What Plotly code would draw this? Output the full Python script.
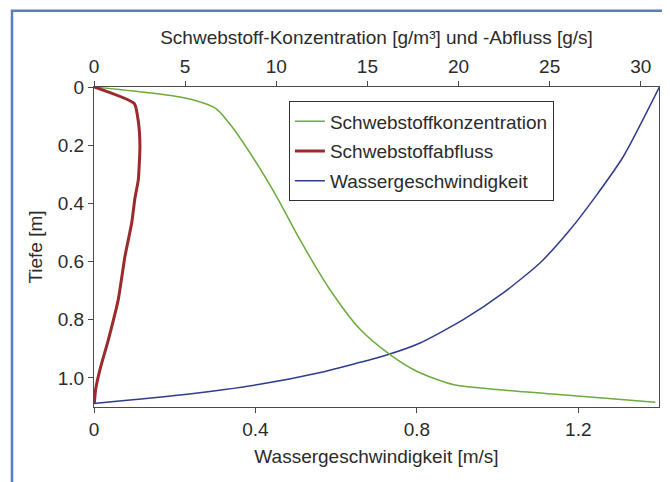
import plotly.graph_objects as go

# Data
depth_conc = [0, 0.021, 0.038, 0.061, 0.076, 0.135, 0.25, 0.38, 0.525, 0.697, 0.833, 0.92, 0.977, 1.023, 1.040, 1.063, 1.084]
concentration = [0, 3.16, 4.99, 6.27, 6.73, 7.55, 8.8, 10.05, 11.3, 12.95, 14.6, 16.24, 17.7, 19.7, 22.1, 26.7, 30.8]

depth_flux = [0, 0.057, 0.118, 0.204, 0.319, 0.381, 0.467, 0.582, 0.731, 0.868, 0.971, 1.04, 1.086]
flux = [0, 2.21, 2.43, 2.52, 2.43, 2.25, 2.07, 1.70, 1.33, 0.79, 0.33, 0.09, 0.02]

depth_vel = [1.088, 1.057, 1.023, 0.983, 0.923, 0.880, 0.800, 0.708, 0.605, 0.490, 0.376, 0.238, 0]
velocity = [0, 0.225, 0.407, 0.555, 0.721, 0.808, 0.915, 1.014, 1.105, 1.180, 1.243, 1.312, 1.401]

y_ticks = [0, 0.2, 0.4, 0.6, 0.8, 1.0]
y_ticktext = ["0", "0.2", "0.4", "0.6", "0.8", "1.0"]
x_ticks = [0, 0.4, 0.8, 1.2]
x_ticktext = ["0", "0.4", "0.8", "1.2"]
x2_ticks = [0, 5, 10, 15, 20, 25, 30]

FONT = "Liberation Sans, Arial, sans-serif"
FS = 19
TXT = "#2b2b2b"
AX = "#4a4a4a"

fig = go.Figure()
fig.add_trace(go.Scatter(x=concentration, y=depth_conc, xaxis="x2", yaxis="y", mode="lines",
                         name="Schwebstoffkonzentration", legendgroup="a",
                         line=dict(color="#6cab3c", width=1.5, shape="spline", smoothing=0.7)))
fig.add_trace(go.Scatter(x=flux, y=depth_flux, xaxis="x2", yaxis="y", mode="lines",
                         name="Schwebstoffabfluss", legendgroup="b",
                         line=dict(color="#9a2a2c", width=3, shape="spline", smoothing=0.5)))
fig.add_trace(go.Scatter(x=velocity, y=depth_vel, xaxis="x", yaxis="y", mode="lines",
                         name="Wassergeschwindigkeit", legendgroup="c",
                         line=dict(color="#2f3c8e", width=1.5, shape="spline", smoothing=0.6)))

axis_common = dict(showgrid=False, zeroline=False, showline=True, linecolor=AX, linewidth=1,
                   ticks="outside", ticklen=5, tickcolor=AX,
                   tickfont=dict(family=FONT, size=FS, color=TXT))

# page has an 8px body margin: plot area in page coords = x 94..659, y 87..407
fig.update_layout(
    width=670, height=482,
    margin=dict(l=86, r=19, t=79, b=83),
    paper_bgcolor="white", plot_bgcolor="white",
    font=dict(family=FONT, size=FS, color=TXT),
    showlegend=True,
    legend=dict(x=0.345, y=0.955, xanchor="left", yanchor="top",
                bordercolor="#333333", borderwidth=1, bgcolor="white",
                font=dict(family=FONT, size=FS, color=TXT),
                itemwidth=30, tracegroupgap=2),
    xaxis=dict(range=[0, 1.4], tickvals=x_ticks, ticktext=x_ticktext,
               title=dict(text="Wassergeschwindigkeit [m/s]", standoff=10,
                          font=dict(family=FONT, size=FS, color=TXT)),
               **axis_common),
    xaxis2=dict(range=[0, 31], tickvals=x2_ticks, overlaying="x", side="top", anchor="y",
                title=dict(text="Schwebstoff-Konzentration [g/m³] und -Abfluss [g/s]", standoff=6,
                           font=dict(family=FONT, size=FS, color=TXT)),
                **axis_common),
    yaxis=dict(range=[1.1, 0], tickvals=y_ticks, ticktext=y_ticktext, mirror=True,
               title=dict(text="Tiefe [m]", standoff=10,
                          font=dict(family=FONT, size=FS, color=TXT)),
               **axis_common),
)

# outer blue frame (extends past right and bottom edges as in reference)
fig.add_shape(type="rect", xref="paper", yref="paper",
              x0=(12 - 94) / 565, x1=(690 - 94) / 565,
              y0=(407.3 - 500) / 320, y1=(407.3 - 11) / 320,
              line=dict(color="#5a7cc2", width=2.5), fillcolor="rgba(0,0,0,0)", layer="below")

fig.write_html("out.html")
